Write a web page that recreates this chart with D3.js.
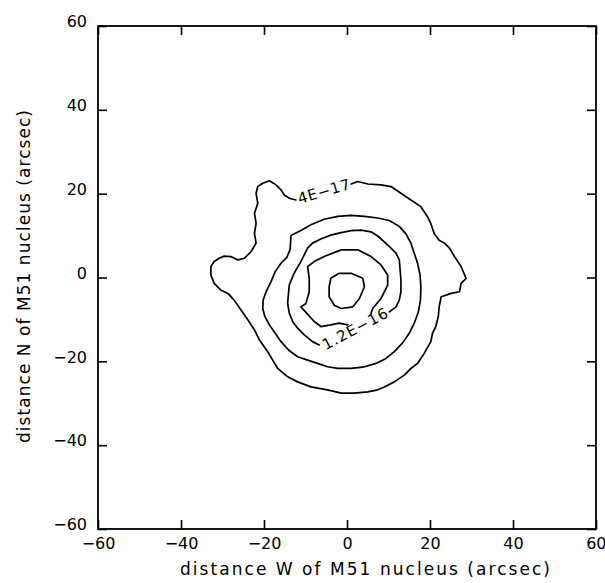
<!DOCTYPE html>
<html>
<head>
<meta charset="utf-8">
<script src="https://cdn.jsdelivr.net/npm/d3@7"></script>
<style>
  html, body { margin: 0; padding: 0; background: #fff; }
  svg { display: block; }
  text { font-family: "DejaVu Sans", "Liberation Sans", sans-serif; fill: #000; }
</style>
</head>
<body>
<svg id="chart" width="605" height="583"></svg>
<script>
// ---- data (arcsec offsets from M51 nucleus) ----
const xTicks = [-60, -40, -20, 0, 20, 40, 60];
const yTicks = [-60, -40, -20, 0, 20, 40, 60];
const xTitle = "distance W of M51 nucleus (arcsec)";
const yTitle = "distance N of M51 nucleus (arcsec)";

// contour 4E-17 (open: gap for label)
const contour4e17 = [
  [1.0,22.3],[2.6,22.9],[5.0,22.3],[8.2,22.1],[10.6,21.7],[13.0,20.1],[15.4,18.5],[17.8,16.9],
  [19.4,14.5],[20.2,12.9],[21.0,10.5],[22.2,8.9],[23.5,8.2],[24.7,7.0],[25.9,5.0],[27.5,2.6],
  [28.7,-0.2],[27.5,-1.4],[27.1,-3.4],[25.1,-3.8],[22.7,-4.6],[22.2,-7.0],[22.0,-9.3],[21.4,-11.7],
  [20.6,-13.3],[20.2,-15.3],[18.6,-18.1],[17.0,-20.5],[15.4,-21.7],[13.8,-23.3],[11.4,-24.9],
  [9.0,-26.1],[7.4,-26.8],[5.0,-27.3],[1.8,-27.6],[-1.4,-27.6],[-4.7,-26.8],[-8.7,-26.1],
  [-11.9,-24.9],[-14.3,-23.7],[-16.7,-21.7],[-17.9,-19.7],[-19.1,-17.7],[-21.1,-14.9],[-22.3,-12.5],
  [-23.9,-10.1],[-25.5,-7.8],[-27.2,-5.4],[-28.7,-3.8],[-30.4,-3.0],[-32.0,-1.4],[-32.8,0.6],
  [-32.8,2.6],[-32.0,3.8],[-30.8,4.6],[-29.6,5.1],[-28.0,5.0],[-26.3,4.2],[-24.7,4.6],[-23.1,6.2],
  [-21.9,8.2],[-22.3,10.5],[-21.9,12.9],[-22.3,15.3],[-21.5,17.7],[-21.9,20.1],[-21.5,21.7],
  [-20.3,22.5],[-18.7,23.1],[-17.1,22.1],[-15.9,20.9],[-15.1,19.7],[-13.9,18.9],[-12.3,18.5]
];
// contour 8E-17 (closed)
const contour8e17 = [
  [-13.5,10.0],[-11.1,11.2],[-8.7,12.6],[-5.5,13.9],[-2.2,14.6],[1.0,14.8],[4.2,14.6],[7.4,14.2],
  [10.2,13.6],[12.6,12.2],[14.2,10.4],[15.4,8.2],[16.2,5.8],[17.0,3.4],[17.6,0.6],[17.8,-2.2],
  [17.7,-5.4],[17.2,-8.2],[16.2,-10.9],[15.0,-13.3],[13.4,-15.6],[11.4,-17.7],[9.4,-19.3],
  [7.0,-20.5],[4.2,-21.3],[1.0,-21.7],[-2.2,-21.7],[-4.7,-21.3],[-7.1,-20.5],[-9.5,-19.7],
  [-11.9,-18.9],[-14.1,-17.3],[-15.9,-15.3],[-17.3,-13.3],[-18.7,-11.3],[-19.8,-9.3],[-20.3,-7.4],
  [-20.2,-5.4],[-19.5,-3.4],[-18.3,-1.0],[-17.3,1.4],[-15.9,3.4],[-14.5,4.8],[-13.7,6.7]
];
// contour 1.2E-16 (open: gap for label)
const contour12e16 = [
  [10.2,-8.2],[11.8,-7.0],[12.6,-5.4],[13.0,-3.4],[13.0,-0.6],[12.8,1.8],[12.6,4.2],[11.8,5.8],
  [10.6,7.0],[9.0,8.5],[7.4,9.9],[5.8,10.9],[3.4,11.3],[1.0,11.2],[-1.4,10.7],[-3.9,10.1],
  [-6.3,9.2],[-8.3,8.2],[-9.5,7.0],[-10.3,5.4],[-11.1,3.8],[-12.3,1.8],[-13.1,0.2],[-13.9,-1.8],
  [-14.1,-3.8],[-14.3,-6.2],[-13.9,-8.5],[-13.1,-10.5],[-11.9,-12.1],[-10.3,-13.7],[-8.3,-15.3],
  [-6.7,-16.1]
];
// contour 1.6E-16 (open where the label crosses)
const contour16e16 = [
  [5.8,-8.5],[6.2,-7.4],[8.2,-5.0],[9.8,-1.8],[9.8,0.6],[8.2,3.0],[5.8,5.0],[2.6,6.6],[-1.4,6.6],
  [-5.5,5.0],[-7.9,3.8],[-9.5,2.6],[-9.1,-0.2],[-9.1,-3.4],[-9.9,-6.2],[-11.1,-7.0],[-7.9,-10.5],
  [-6.3,-11.7],[-3.9,-11.3],[-1.9,-10.9],[0.2,-11.3]
];
// contour 2E-16 (closed)
const contour2e16 = [
  [-3.9,-0.2],[-1.9,1.0],[1.0,1.0],[3.8,-0.2],[4.2,-2.2],[3.0,-5.0],[1.4,-7.0],[-1.4,-7.4],
  [-3.1,-6.6],[-4.3,-4.6],[-4.3,-2.2]
];
const contourLabels = [
  { text: "4E\u221217", x: -5.6, y: 20.6, angle: -16.5, len: 54 },
  { text: "1.2E\u221216", x: 1.9, y: -12.2, angle: -28, len: 72 }
];

// ---- layout ----
const svg = d3.select("#chart");
const x = d3.scaleLinear().domain([-60, 60]).range([98, 596]);
const y = d3.scaleLinear().domain([-60, 60]).range([529, 26]);
const tickLen = 9;

const fmt = d => d3.format("d")(d).replace("-", "\u2212");

// bottom axis
const gB = svg.append("g").attr("transform", `translate(0,${y(-60)})`)
  .call(d3.axisBottom(x).tickValues(xTicks).tickFormat(fmt).tickSizeInner(-tickLen).tickSizeOuter(0));
gB.select(".domain").remove();
gB.selectAll("line").attr("stroke", "#000").attr("stroke-width", 1.6);
gB.selectAll("text").attr("y", 20).attr("dy", "0").style("font-size", "16px").attr("fill", "#000");
gB.selectAll(".tick").filter(d => d === 60).select("text").attr("text-anchor", "end").attr("x", 10);

// top axis (ticks only)
const gT = svg.append("g").attr("transform", `translate(0,${y(60)})`)
  .call(d3.axisTop(x).tickValues(xTicks).tickFormat("").tickSizeInner(-tickLen).tickSizeOuter(0));
gT.select(".domain").remove();
gT.selectAll("line").attr("stroke", "#000").attr("stroke-width", 1.6);

// left axis
const gL = svg.append("g").attr("transform", `translate(${x(-60)},0)`)
  .call(d3.axisLeft(y).tickValues(yTicks).tickFormat(fmt).tickSizeInner(-tickLen).tickSizeOuter(0));
gL.select(".domain").remove();
gL.selectAll("line").attr("stroke", "#000").attr("stroke-width", 1.6);
gL.selectAll("text").attr("x", -11).attr("dy", "0.05em").style("font-size", "16px").attr("fill", "#000");

// right axis (ticks only)
const gR = svg.append("g").attr("transform", `translate(${x(60)},0)`)
  .call(d3.axisRight(y).tickValues(yTicks).tickFormat("").tickSizeInner(-tickLen).tickSizeOuter(0));
gR.select(".domain").remove();
gR.selectAll("line").attr("stroke", "#000").attr("stroke-width", 1.6);

// frame
svg.append("rect")
  .attr("x", x(-60)).attr("y", y(60))
  .attr("width", x(60) - x(-60)).attr("height", y(-60) - y(60))
  .attr("fill", "none").attr("stroke", "#000").attr("stroke-width", 1.8);

// contours
const line = d3.line().x(d => x(d[0])).y(d => y(d[1]));
const lineClosed = d3.line().x(d => x(d[0])).y(d => y(d[1])).curve(d3.curveLinearClosed);
const gC = svg.append("g").attr("fill", "none").attr("stroke", "#000")
  .attr("stroke-width", 1.7).attr("stroke-linejoin", "round").attr("stroke-linecap", "round");
gC.append("path").attr("d", line(contour4e17));
gC.append("path").attr("d", lineClosed(contour8e17));
gC.append("path").attr("d", line(contour12e16));
gC.append("path").attr("d", line(contour16e16));
gC.append("path").attr("d", lineClosed(contour2e16));

// contour labels
svg.append("g").selectAll("text").data(contourLabels).join("text")
  .attr("transform", d => `translate(${x(d.x)},${y(d.y)}) rotate(${d.angle})`)
  .attr("text-anchor", "middle").attr("dy", "0.36em")
  .attr("textLength", d => d.len).attr("lengthAdjust", "spacing")
  .style("font-size", "15px")
  .text(d => d.text);

// axis titles
svg.append("text")
  .attr("x", 365).attr("y", 575)
  .attr("text-anchor", "middle")
  .attr("textLength", 370).attr("lengthAdjust", "spacing")
  .style("font-size", "17px")
  .text(xTitle);
svg.append("text")
  .attr("transform", `translate(30,276.5) rotate(-90)`)
  .attr("text-anchor", "middle")
  .attr("textLength", 333).attr("lengthAdjust", "spacing")
  .style("font-size", "17px")
  .text(yTitle);
</script>
</body>
</html>
